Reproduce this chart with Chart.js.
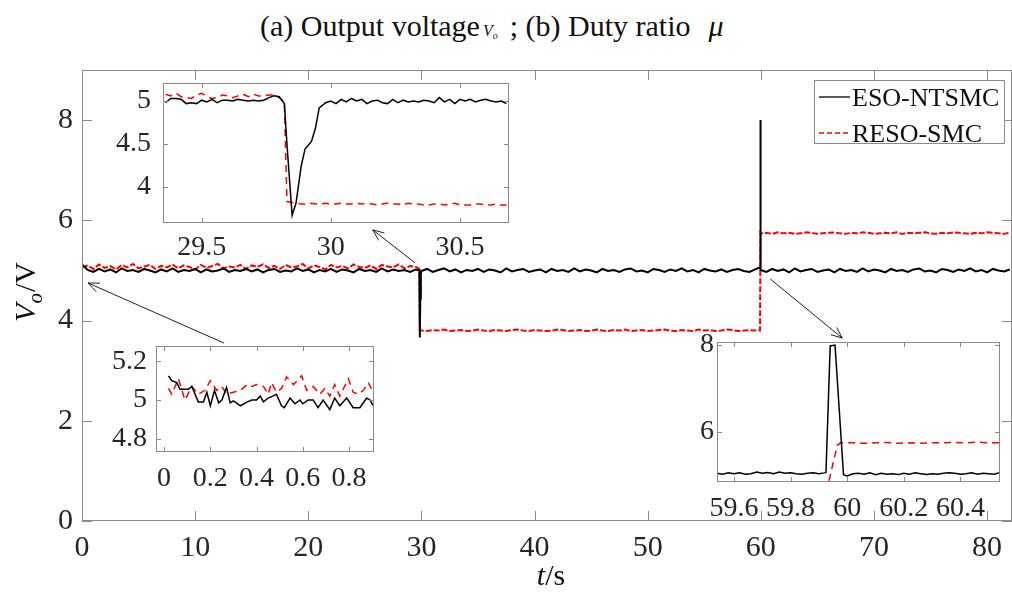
<!DOCTYPE html>
<html>
<head>
<meta charset="utf-8">
<script src="https://cdn.jsdelivr.net/npm/chart.js@4.4.0/dist/chart.umd.min.js"></script>
<style>
  body { margin: 0; background: #fff; overflow: hidden; }
  #wrap { position: relative; width: 1012px; height: 600px; overflow: hidden; }
  canvas { position: absolute; }
  #title { position: absolute; left: 260px; top: 9px; font-family: 'Liberation Serif', 'Times New Roman', serif; font-size: 30px; line-height: 34px; color: #111; white-space: nowrap; }
  #title .vo { font-style: italic; font-size: 16px; margin-left: 3px; margin-right: 12px; }
  #title .vo sub { font-size: 10px; vertical-align: -3px; }
  #title .mu { font-style: italic; margin-left: 18px; }
</style>
</head>
<body>
<div id="wrap">
  <div id="title">(a) Output voltage<span class="vo">V<sub>o</sub></span>; (b) Duty ratio<span class="mu">μ</span></div>
  <canvas id="mainChart" width="1030" height="600" style="left:0;top:0"></canvas>
  <canvas id="zoomJump" width="420" height="210" style="left:100px;top:53px"></canvas>
  <canvas id="zoomStart" width="290" height="180" style="left:100px;top:316px"></canvas>
  <canvas id="zoomStep" width="342" height="214" style="left:670px;top:312px"></canvas>
</div>
<script>
// ---- main plot data (t in s, Vo in V) ----
const tA = [0,0.5,1,1.5,2,2.5,3,3.5,4,4.5, 5,5.5,6,6.5,7,7.5,8,8.5,9,9.5,
  10,10.5,11,11.5,12,12.5,13,13.5,14,14.5, 15,15.5,16,16.5,17,17.5,18,18.5,19,19.5,
  20,20.5,21,21.5,22,22.5,23,23.5,24,24.5, 25,25.5,26,26.5,27,27.5,28,28.5,29,29.5];
const esoA = [5.12,5.01,4.97,5.03,4.98,5.02,4.96,5.04,4.99,5.01, 4.97,5.03,5.00,4.96,5.02,4.98,5.04,4.97,5.01,4.99,
  5.03,4.96,5.02,4.98,5.00,5.04,4.97,5.01,4.99,5.03, 4.98,5.02,4.96,5.01,5.03,4.97,5.00,4.98,5.04,4.99,
  5.02,4.96,5.01,4.98,5.03,4.97,5.02,5.00,4.96,5.03, 4.99,5.01,4.97,5.04,4.98,5.02,4.99,5.01,4.97,5.02];
const resoA = [5.06,5.10,5.03,5.12,5.05,5.09,5.02,5.11,5.06,5.13, 5.04,5.08,5.11,5.03,5.09,5.06,5.12,5.04,5.10,5.07,
  5.02,5.11,5.05,5.09,5.13,5.04,5.08,5.06,5.11,5.03, 5.10,5.07,5.12,5.05,5.09,5.03,5.11,5.06,5.08,5.13,
  5.04,5.10,5.07,5.02,5.11,5.06,5.09,5.04,5.12,5.07, 5.05,5.10,5.03,5.11,5.08,5.06,5.12,5.04,5.09,5.07];

const tJump1 = [29.82,29.86,29.9,29.95];
const esoJump1 = [5.00,3.66,4.44,4.92];
const resoJump1 = [5.03,3.81,3.80,3.80];

const tB = [30,30.5,31,31.5,32,32.5,33,33.5,34,34.5, 35,35.5,36,36.5,37,37.5,38,38.5,39,39.5,
  40,40.5,41,41.5,42,42.5,43,43.5,44,44.5, 45,45.5,46,46.5,47,47.5,48,48.5,49,49.5,
  50,50.5,51,51.5,52,52.5,53,53.5,54,54.5, 55,55.5,56,56.5,57,57.5,58,58.5,59,59.5];
const esoB = [4.99,5.03,4.97,5.01,5.04,4.98,5.02,4.96,5.01,4.99, 5.03,4.97,5.02,5.00,4.96,5.04,4.98,5.01,5.03,4.97,
  5.00,5.02,4.96,5.03,4.99,5.01,4.97,5.04,4.98,5.02, 5.00,4.96,5.03,4.99,5.01,4.97,5.02,5.04,4.98,5.00,
  4.96,5.03,5.01,4.97,5.02,4.99,5.04,4.98,5.01,4.96, 5.03,5.00,4.98,5.02,4.97,5.01,5.03,4.99,4.97,5.02];
const resoB = [3.80,3.79,3.81,3.80,3.82,3.79,3.80,3.81,3.79,3.80, 3.82,3.80,3.79,3.81,3.80,3.79,3.81,3.82,3.80,3.79,
  3.81,3.80,3.79,3.80,3.82,3.81,3.79,3.80,3.81,3.79, 3.80,3.82,3.80,3.79,3.81,3.80,3.82,3.79,3.80,3.81,
  3.79,3.80,3.81,3.82,3.80,3.79,3.81,3.80,3.79,3.82, 3.80,3.81,3.79,3.80,3.82,3.81,3.79,3.80,3.81,3.80];

const tJump2 = [59.93,59.95,59.97];
const esoJump2 = [5.06,8.00,5.02];
const resoJump2 = [3.80,4.90,5.75];

const tC = [60,60.5,61,61.5,62,62.5,63,63.5,64,64.5, 65,65.5,66,66.5,67,67.5,68,68.5,69,69.5,
  70,70.5,71,71.5,72,72.5,73,73.5,74,74.5, 75,75.5,76,76.5,77,77.5,78,78.5,79,79.5,
  80,80.5,81,81.5,82];
const esoC = [5.01,4.97,5.03,4.99,5.02,4.96,5.04,4.98,5.01,5.03, 4.97,5.00,5.02,4.96,5.03,4.99,5.01,4.97,5.04,4.98,
  5.02,5.00,4.96,5.03,4.99,5.01,4.97,5.02,5.04,4.98, 5.00,4.96,5.03,5.01,4.97,5.02,4.99,5.04,4.98,5.01,
  4.96,5.03,5.00,4.98,5.02];
const resoC = [5.74,5.75,5.73,5.76,5.74,5.75,5.73,5.74,5.76,5.75, 5.73,5.74,5.75,5.76,5.74,5.73,5.75,5.74,5.76,5.75,
  5.73,5.74,5.75,5.74,5.76,5.73,5.75,5.74,5.75,5.76, 5.74,5.73,5.75,5.74,5.76,5.75,5.74,5.73,5.75,5.74,
  5.76,5.75,5.74,5.73,5.75];

const mainTime = [...tA, ...tJump1, ...tB, ...tJump2, ...tC];
const mainEso = [...esoA, ...esoJump1, ...esoB, ...esoJump2, ...esoC];
const mainReso = [...resoA, ...resoJump1, ...resoB, ...resoJump2, ...resoC];
const mainXTicks = [0,10,20,30,40,50,60,70,80];
const mainYTicks = [0,2,4,6,8];

// ---- zoom around the load drop at 30 s ----
const jumpTime = [29.36,29.38,29.40,29.42,29.44,29.46,29.48,29.50,29.52,29.54,
  29.56,29.58,29.60,29.62,29.64,29.66,29.68,29.70,29.72,29.74, 29.76,29.78,
  29.80,29.82,29.83,29.85,29.865,29.885,29.90,29.925,29.94,29.955,29.98,
  30.00,30.02,30.04,30.06,30.08,30.10,30.12,30.14,30.16,30.18,
  30.20,30.22,30.24,30.26,30.28,30.30,30.32,30.34,30.36,30.38,
  30.40,30.42,30.44,30.46,30.48,30.50,30.52,30.54,30.56,30.58,
  30.60,30.62,30.64,30.66,30.68];
const jumpEso = [4.98,5.03,5.03,5.02,4.97,4.98,4.97,5.01,4.99,5.02,
  4.98,5.01,5.01,5.00,5.02,5.01,5.00,5.01,5.00,5.01, 5.04,5.06,
  5.05,4.97,4.50,3.67,3.81,4.24,4.44,4.53,4.68,4.92,4.98,
  5.00,4.97,5.02,4.99,5.03,5.00,5.02,4.97,5.00,5.01,
  4.98,4.97,5.02,4.98,5.01,4.99,5.00,4.99,5.01,5.00,
  4.98,5.04,4.99,5.02,4.97,5.02,5.00,5.02,4.99,5.01,
  5.02,5.00,4.99,5.00,4.97];
const jumpReso = [5.08,5.06,5.09,5.05,5.04,5.03,5.07,5.09,5.05,5.03,
  5.04,5.07,5.06,5.04,5.06,5.08,5.05,5.08,5.06,5.06, 5.07,5.07,
  5.04,4.99,3.83,3.82,3.81,3.80,3.80,3.81,3.80,3.80,3.81,
  3.80,3.80,3.81,3.80,3.80,3.81,3.80,3.81,3.80,3.79,
  3.80,3.81,3.80,3.80,3.79,3.81,3.80,3.80,3.79,3.79,
  3.80,3.80,3.79,3.80,3.81,3.79,3.79,3.79,3.80,3.80,
  3.79,3.79,3.80,3.79,3.79];

// ---- zoom on the start-up ----
const startEsoTime = [0.019,0.033,0.055,0.069,0.105,0.12,0.148,0.17,0.185,0.2,
  0.218,0.236,0.25,0.27,0.286,0.3,0.33,0.36,0.38,0.4,
  0.416,0.43,0.45,0.47,0.486,0.508,0.52,0.545,0.566,0.588,
  0.6,0.623,0.645,0.666,0.688,0.717,0.738,0.76,0.79,0.818,
  0.847,0.876,0.89,0.905];
const startEso = [5.125,5.10,5.09,5.055,5.055,5.07,4.99,4.99,5.04,4.97,
  5.05,4.985,5.0,5.065,4.985,4.995,4.97,4.99,5.0,5.0,
  5.02,4.99,5.01,5.02,5.03,4.97,4.96,5.01,4.98,5.0,
  4.98,5.0,5.0,4.96,5.0,4.95,5.01,4.97,5.01,4.96,
  4.96,5.01,5.0,4.97];
const startResoTime = [0.019,0.033,0.062,0.09,0.12,0.148,0.177,0.2,0.228,0.25,
  0.27,0.3,0.33,0.36,0.38,0.4,0.43,0.45,0.465,0.486,
  0.508,0.53,0.56,0.595,0.617,0.645,0.674,0.695,0.717,0.738,
  0.76,0.797,0.818,0.84,0.862,0.883,0.905];
const startReso = [5.06,5.03,5.11,5.0,5.07,5.03,5.05,5.10,5.05,5.07,
  5.03,5.04,5.05,5.08,5.07,5.08,5.07,5.03,5.09,5.04,
  5.06,5.12,5.08,5.125,5.05,5.07,5.03,5.06,5.02,5.08,
  5.02,5.11,5.04,5.03,5.05,5.09,5.04];

// ---- zoom around the reference step at 60 s ----
const stepEsoTime = [59.54,59.56,59.58,59.60,59.62,59.64,59.66,59.68,59.70,59.72,
  59.74,59.76,59.78,59.80,59.82,59.84,59.86,59.88,59.90,59.92,
  59.925,59.94,59.957,59.987,
  60.00,60.02,60.04,60.06,60.08,60.10,60.12,60.14,60.16,60.18,
  60.20,60.22,60.24,60.26,60.28,60.30,60.32,60.34,60.36,60.38,
  60.40,60.42,60.44,60.46,60.48,60.50,60.52,60.54];
const stepEso = [5.05,5.03,5.06,5.04,5.06,5.03,5.04,5.08,5.05,5.07,
  5.04,5.08,5.05,5.06,5.04,5.03,5.05,5.06,5.04,5.06,
  5.07,7.98,8.00,5.02,
  4.99,5.04,5.05,5.03,5.06,5.02,5.05,5.03,5.04,5.02,
  5.05,5.03,5.06,5.04,5.02,5.04,5.03,5.05,5.06,5.05,
  5.03,5.04,5.06,5.03,5.05,5.04,5.03,5.07];
const stepResoTime = [59.90,59.935,59.954,59.966,59.977,60.02,60.06,60.10,60.14,60.18,
  60.22,60.26,60.30,60.34,60.38,60.42,60.46,60.50,60.54];
const stepReso = [3.80,4.86,5.39,5.70,5.75,5.75,5.74,5.75,5.76,5.74,
  5.75,5.74,5.75,5.75,5.76,5.75,5.77,5.75,5.75];

const seriesNames = ['ESO-NTSMC', 'RESO-SMC'];

Chart.defaults.font.family = "'Liberation Serif', 'Times New Roman', serif";
Chart.defaults.color = '#262626';

const FRAME = '#8a8a8a';
const SERIF = "'Liberation Serif', 'Times New Roman', serif";

// white plot box, grey frame and MATLAB style inward ticks
const framePlugin = {
  id: 'frame',
  beforeDatasetsDraw(chart) {
    const { ctx, chartArea: a } = chart;
    ctx.save();
    ctx.fillStyle = '#fff';
    ctx.fillRect(a.left, a.top, a.right - a.left, a.bottom - a.top);
    ctx.restore();
  },
  afterDatasetsDraw(chart, args, opts) {
    const { ctx, chartArea: a, scales } = chart;
    const len = opts.tickLength;
    ctx.save();
    ctx.strokeStyle = FRAME;
    ctx.lineWidth = 1;
    ctx.beginPath();
    scales.x.ticks.forEach(t => {
      const px = Math.round(scales.x.getPixelForValue(t.value)) + 0.5;
      ctx.moveTo(px, a.bottom); ctx.lineTo(px, a.bottom - len);
      ctx.moveTo(px, a.top); ctx.lineTo(px, a.top + len);
    });
    scales.y.ticks.forEach(t => {
      const py = Math.round(scales.y.getPixelForValue(t.value)) + 0.5;
      ctx.moveTo(a.left, py); ctx.lineTo(a.left + len, py);
      ctx.moveTo(a.right, py); ctx.lineTo(a.right - len, py);
    });
    ctx.stroke();
    ctx.strokeRect(Math.round(a.left) + 0.5, Math.round(a.top) + 0.5,
      Math.round(a.right - a.left) - 1, Math.round(a.bottom - a.top) - 1);
    ctx.restore();
  }
};

// axis titles, arrows and legend of the main plot
const arrows = [
  { from: [29.44, 5.15], to: [25.7, 5.81] },
  { from: [12.56, 3.55], to: [0.53, 4.75] },
  { from: [60.83, 4.83], to: [67.2, 3.65] }
];

const extrasPlugin = {
  id: 'extras',
  afterDraw(chart) {
    const { ctx, chartArea: a, scales } = chart;
    ctx.save();
    ctx.fillStyle = '#111';
    ctx.textBaseline = 'alphabetic';

    // x title: t/s
    ctx.font = 'italic 30px ' + SERIF;
    const wt = ctx.measureText('t').width;
    ctx.font = '30px ' + SERIF;
    const ws = ctx.measureText('/s').width;
    let x0 = (a.left + a.right) / 2 + 4 - (wt + ws) / 2;
    ctx.font = 'italic 30px ' + SERIF;
    ctx.fillText('t', x0, 585);
    ctx.font = '30px ' + SERIF;
    ctx.fillText('/s', x0 + wt, 585);

    // y title: Vo/V, rotated
    ctx.save();
    ctx.translate(35, (a.top + a.bottom) / 2 - 3);
    ctx.rotate(-Math.PI / 2);
    ctx.font = 'italic 30px ' + SERIF;
    const wV = ctx.measureText('V').width;
    ctx.font = 'italic 21px ' + SERIF;
    const wo = ctx.measureText('o').width;
    ctx.font = '30px ' + SERIF;
    const wr = ctx.measureText('/V').width;
    let s = -(wV + wo + wr) / 2;
    ctx.font = 'italic 30px ' + SERIF;
    ctx.fillText('V', s, 0);
    ctx.font = 'italic 21px ' + SERIF;
    ctx.fillText('o', s + wV, 7);
    ctx.font = '30px ' + SERIF;
    ctx.fillText('/V', s + wV + wo + 1, 0);
    ctx.restore();

    // arrows
    ctx.strokeStyle = '#222';
    ctx.lineWidth = 1;
    arrows.forEach(ar => {
      const x1 = scales.x.getPixelForValue(ar.from[0]), y1 = scales.y.getPixelForValue(ar.from[1]);
      const x2 = scales.x.getPixelForValue(ar.to[0]), y2 = scales.y.getPixelForValue(ar.to[1]);
      const ang = Math.atan2(y2 - y1, x2 - x1);
      ctx.beginPath();
      ctx.moveTo(x1, y1); ctx.lineTo(x2, y2);
      ctx.moveTo(x2 - 12 * Math.cos(ang - 0.4), y2 - 12 * Math.sin(ang - 0.4));
      ctx.lineTo(x2, y2);
      ctx.lineTo(x2 - 12 * Math.cos(ang + 0.4), y2 - 12 * Math.sin(ang + 0.4));
      ctx.stroke();
    });

    // legend box
    const lx = a.right - 198, ly = a.top + 10, lw = 190, lh = 63;
    ctx.fillStyle = '#fff';
    ctx.fillRect(lx, ly, lw, lh);
    ctx.strokeStyle = FRAME;
    ctx.strokeRect(lx + 0.5, ly + 0.5, lw, lh);
    ctx.font = '26px ' + SERIF;
    chart.data.datasets.forEach((ds, i) => {
      const yy = ly + 17 + i * 36;
      ctx.strokeStyle = ds.borderColor;
      ctx.lineWidth = 1.3;
      ctx.setLineDash(i === 1 ? [5, 3] : []);
      ctx.beginPath();
      ctx.moveTo(lx + 5, yy); ctx.lineTo(lx + 36, yy);
      ctx.stroke();
      ctx.setLineDash([]);
      ctx.fillStyle = '#111';
      ctx.fillText(ds.label, lx + 38, yy + 9);
    });
    ctx.restore();
  }
};

function axis(min, max, tickValues, fit, fontSize, padding) {
  return {
    type: 'linear', min, max,
    afterBuildTicks: s => { s.ticks = tickValues.map(v => ({ value: v })); },
    afterFit: s => { if (s.isHorizontal()) s.height = fit; else s.width = fit; },
    grid: { display: false, drawTicks: false },
    border: { display: false },
    ticks: { autoSkip: false, maxRotation: 0, padding, font: { size: fontSize }, color: '#262626', callback: v => String(v) }
  };
}

function line(label, xs, ys, color, width, dash) {
  return {
    label,
    data: xs.map((x, i) => ({ x, y: ys[i] })),
    borderColor: color, borderWidth: width, borderDash: dash,
    pointRadius: 0, tension: 0, fill: false
  };
}

function makeChart(id, datasets, xAxis, yAxis, padding, tickLength, extra) {
  return new Chart(document.getElementById(id), {
    type: 'line',
    data: { datasets },
    options: {
      responsive: false, animation: false, devicePixelRatio: 1, events: [],
      layout: { padding },
      scales: { x: xAxis, y: yAxis },
      plugins: { legend: { display: false }, tooltip: { enabled: false }, frame: { tickLength } }
    },
    plugins: extra ? [framePlugin, extra] : [framePlugin]
  });
}

// main plot
makeChart('mainChart', [
  line(seriesNames[0], mainTime, mainEso, '#000', 2, []),
  line(seriesNames[1], mainTime, mainReso, '#ff0000', 2, [6, 2])
], axis(0, 82.2, mainXTicks, 79, 30, 9), axis(0, 9, mainYTicks, 82, 30, 9),
  { top: 70, right: 18, left: 0, bottom: 0 }, 10, extrasPlugin);

// inset: drop at 30 s
makeChart('zoomJump', [
  line(seriesNames[0], jumpTime, jumpEso, '#000', 1.5, []),
  line(seriesNames[1], jumpTime, jumpReso, '#ff0000', 1.5, [7, 5])
], axis(29.35, 30.69, [29.5, 30, 30.5], 40, 28, 8), axis(3.58, 5.21, [4, 4.5, 5], 63, 28, 12),
  { top: 30, right: 11, left: 0, bottom: 0 }, 5);

// inset: start-up
makeChart('zoomStart', [
  line(seriesNames[0], startEsoTime, startEso, '#000', 1.5, []),
  line(seriesNames[1], startResoTime, startReso, '#ff0000', 1.5, [7, 5])
], axis(-0.035, 0.908, [0, 0.2, 0.4, 0.6, 0.8], 44, 28, 10), axis(4.73, 5.28, [4.8, 5, 5.2], 56, 28, 9),
  { top: 30, right: 16, left: 0, bottom: 0 }, 5);

// inset: step at 60 s
makeChart('zoomStep', [
  line(seriesNames[0], stepEsoTime, stepEso, '#000', 1.5, []),
  line(seriesNames[1], stepResoTime, stepReso, '#ff0000', 1.5, [7, 5])
], axis(59.54, 60.54, [59.6, 59.8, 60, 60.2, 60.4], 44, 28, 10), axis(4.85, 8.07, [6, 8], 47, 28, 3),
  { top: 30, right: 12, left: 0, bottom: 0 }, 5);
</script>
</body>
</html>
